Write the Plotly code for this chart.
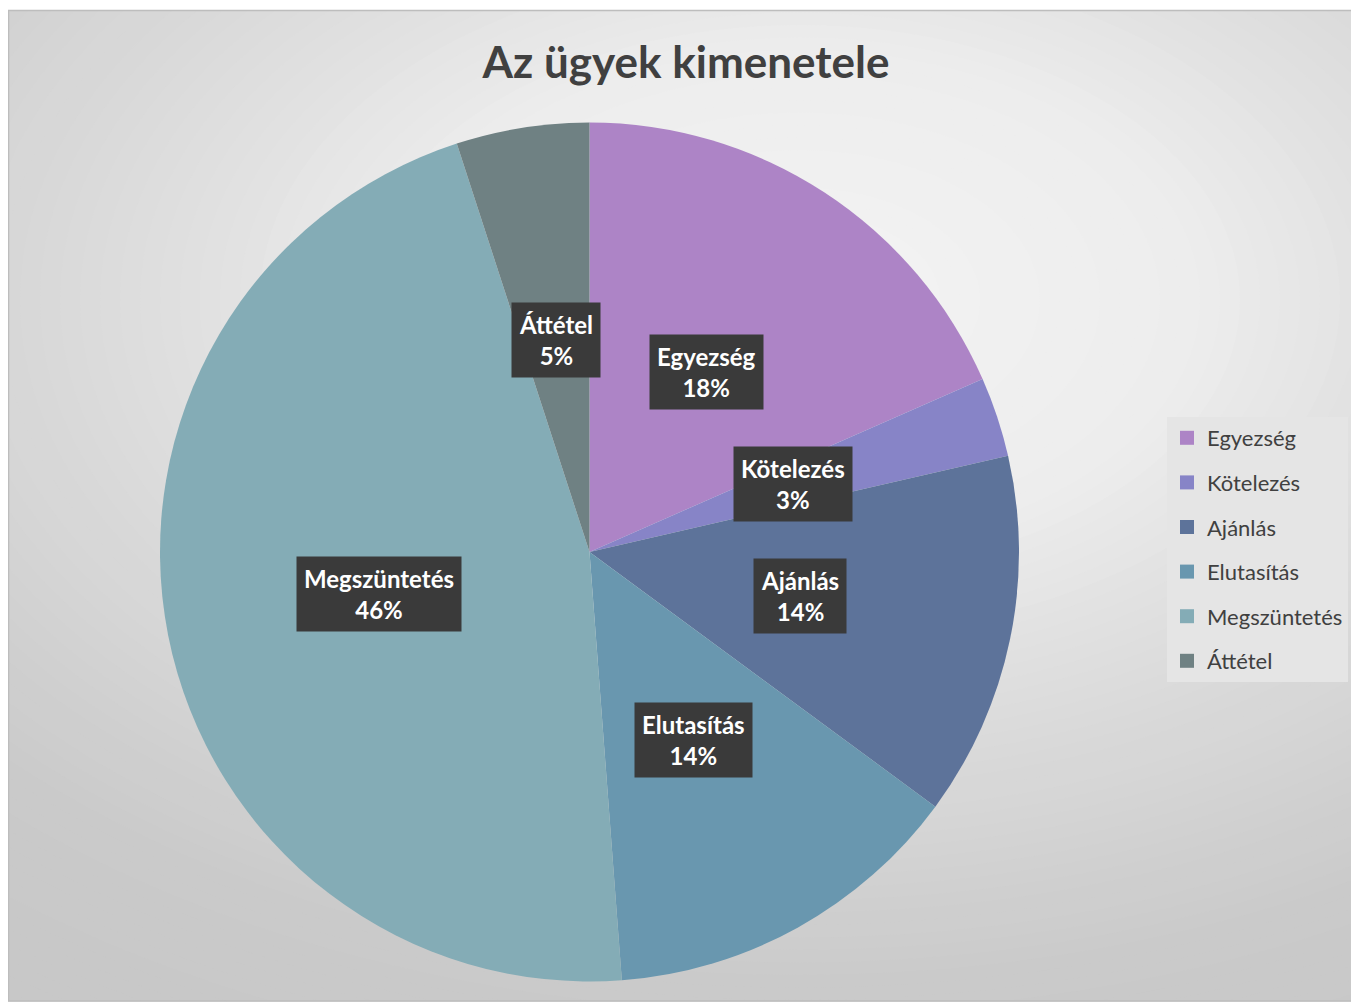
import math
import plotly.graph_objects as go

# ---- data ----
categories = ["Egyezség", "Kötelezés", "Ajánlás", "Elutasítás", "Megszüntetés", "Áttétel"]
values = [18.4, 3.0, 13.7, 13.7, 46.2, 5.0]
colors = ["#ad84c6", "#8784c7", "#5d739a", "#6997af", "#84acb6", "#6f8183"]
title_text = "Az ügyek kimenetele"

# ---- layout constants (screen pixels; page body has an 8px margin) ----
OFF = 8
W, H = 1359 - OFF, 1003 - OFF
PIE_CX, PIE_CY, PIE_R = 589.5, 552.0, 429.5


def px(sx):
    return (sx - OFF) / W


def py(sy):
    return 1 - (sy - OFF) / H


fig = go.Figure()

fig.add_trace(go.Pie(
    labels=categories,
    values=values,
    marker=dict(colors=colors, line=dict(width=0)),
    sort=False,
    direction="clockwise",
    rotation=0,
    textinfo="none",
    hoverinfo="label+percent",
    showlegend=False,
    domain=dict(x=[px(PIE_CX - PIE_R), px(PIE_CX + PIE_R)],
                y=[py(PIE_CY + PIE_R), py(PIE_CY - PIE_R)]),
))

# legend entries (one per category, so spacing can be controlled)
for lab, col in zip(categories, colors):
    fig.add_trace(go.Scatter(
        x=[None], y=[None], mode="markers", name=lab, legendgroup=lab,
        marker=dict(symbol="square", size=14, color=col),
        hoverinfo="skip",
    ))

# ---- background radial gradient (decoration) ----
shapes = []
GX, GY, EY = 800.0, 300.0, 1.6
stops = [(0, 244), (400, 237), (650, 222), (900, 211), (1100, 202), (1300, 200), (1600, 199)]


def shade(d):
    for (d0, c0), (d1, c1) in zip(stops[:-1], stops[1:]):
        if d <= d1:
            t = (d - d0) / (d1 - d0)
            return c0 + (c1 - c0) * t
    return stops[-1][1]


r = 1600.0
while r > 10:
    c = int(round(shade(r)))
    shapes.append(dict(
        type="circle", xref="paper", yref="paper", layer="below",
        x0=px(GX - r), x1=px(GX + r), y0=py(GY + r / EY), y1=py(GY - r / EY),
        fillcolor=f"rgb({c},{c},{c})", line=dict(width=0),
    ))
    r -= 20

# white strip above / below the chart frame
shapes.append(dict(type="rect", xref="paper", yref="paper", layer="below",
                   x0=-0.1, x1=1.1, y0=py(10), y1=1.1, fillcolor="white", line=dict(width=0)))
shapes.append(dict(type="rect", xref="paper", yref="paper", layer="below",
                   x0=-0.1, x1=1.1, y0=-0.1, y1=py(1001.5), fillcolor="white", line=dict(width=0)))
# frame
shapes.append(dict(type="rect", xref="paper", yref="paper", layer="below",
                   x0=px(8.5), x1=1.05, y0=py(1001), y1=py(10.5),
                   fillcolor="rgba(0,0,0,0)", line=dict(width=1.5, color="#bdbdbd")))

# ---- data labels at half radius, mid-angle of each slice ----
total = sum(values)
annotations = []
cum = 0.0
for lab, v in zip(categories, values):
    mid = (cum + v / 2) / total * 2 * math.pi
    cum += v
    lx = PIE_CX + 0.5 * PIE_R * math.sin(mid)
    ly = PIE_CY - 0.5 * PIE_R * math.cos(mid)
    pct = round(v / total * 100)
    txt = f"<b>{lab}</b><br><b>{pct}%</b>"
    annotations.append(dict(
        x=px(lx), y=py(ly), xref="paper", yref="paper", text=txt, showarrow=False,
        xanchor="center", yanchor="middle",
        font=dict(family="Lato", size=24, color="white"),
        bgcolor="#3a3a3a", borderpad=7,
    ))

fig.update_layout(
    width=W, height=H,
    margin=dict(l=0, r=0, t=0, b=0),
    paper_bgcolor="white",
    plot_bgcolor="rgba(0,0,0,0)",
    title=dict(text=f"<b>{title_text}</b>", x=px(686), xanchor="center",
               y=py(63), yanchor="middle",
               font=dict(family="Lato", size=44, color="#404040")),
    xaxis=dict(visible=False),
    yaxis=dict(visible=False),
    legend=dict(x=px(1167), y=py(417), xanchor="left", yanchor="top",
                bgcolor="#e5e5e5", font=dict(family="Lato", size=22, color="#404040"),
                tracegroupgap=13, itemwidth=30, traceorder="grouped"),
    shapes=shapes,
    annotations=annotations,
)

fig.write_html("out.html")
